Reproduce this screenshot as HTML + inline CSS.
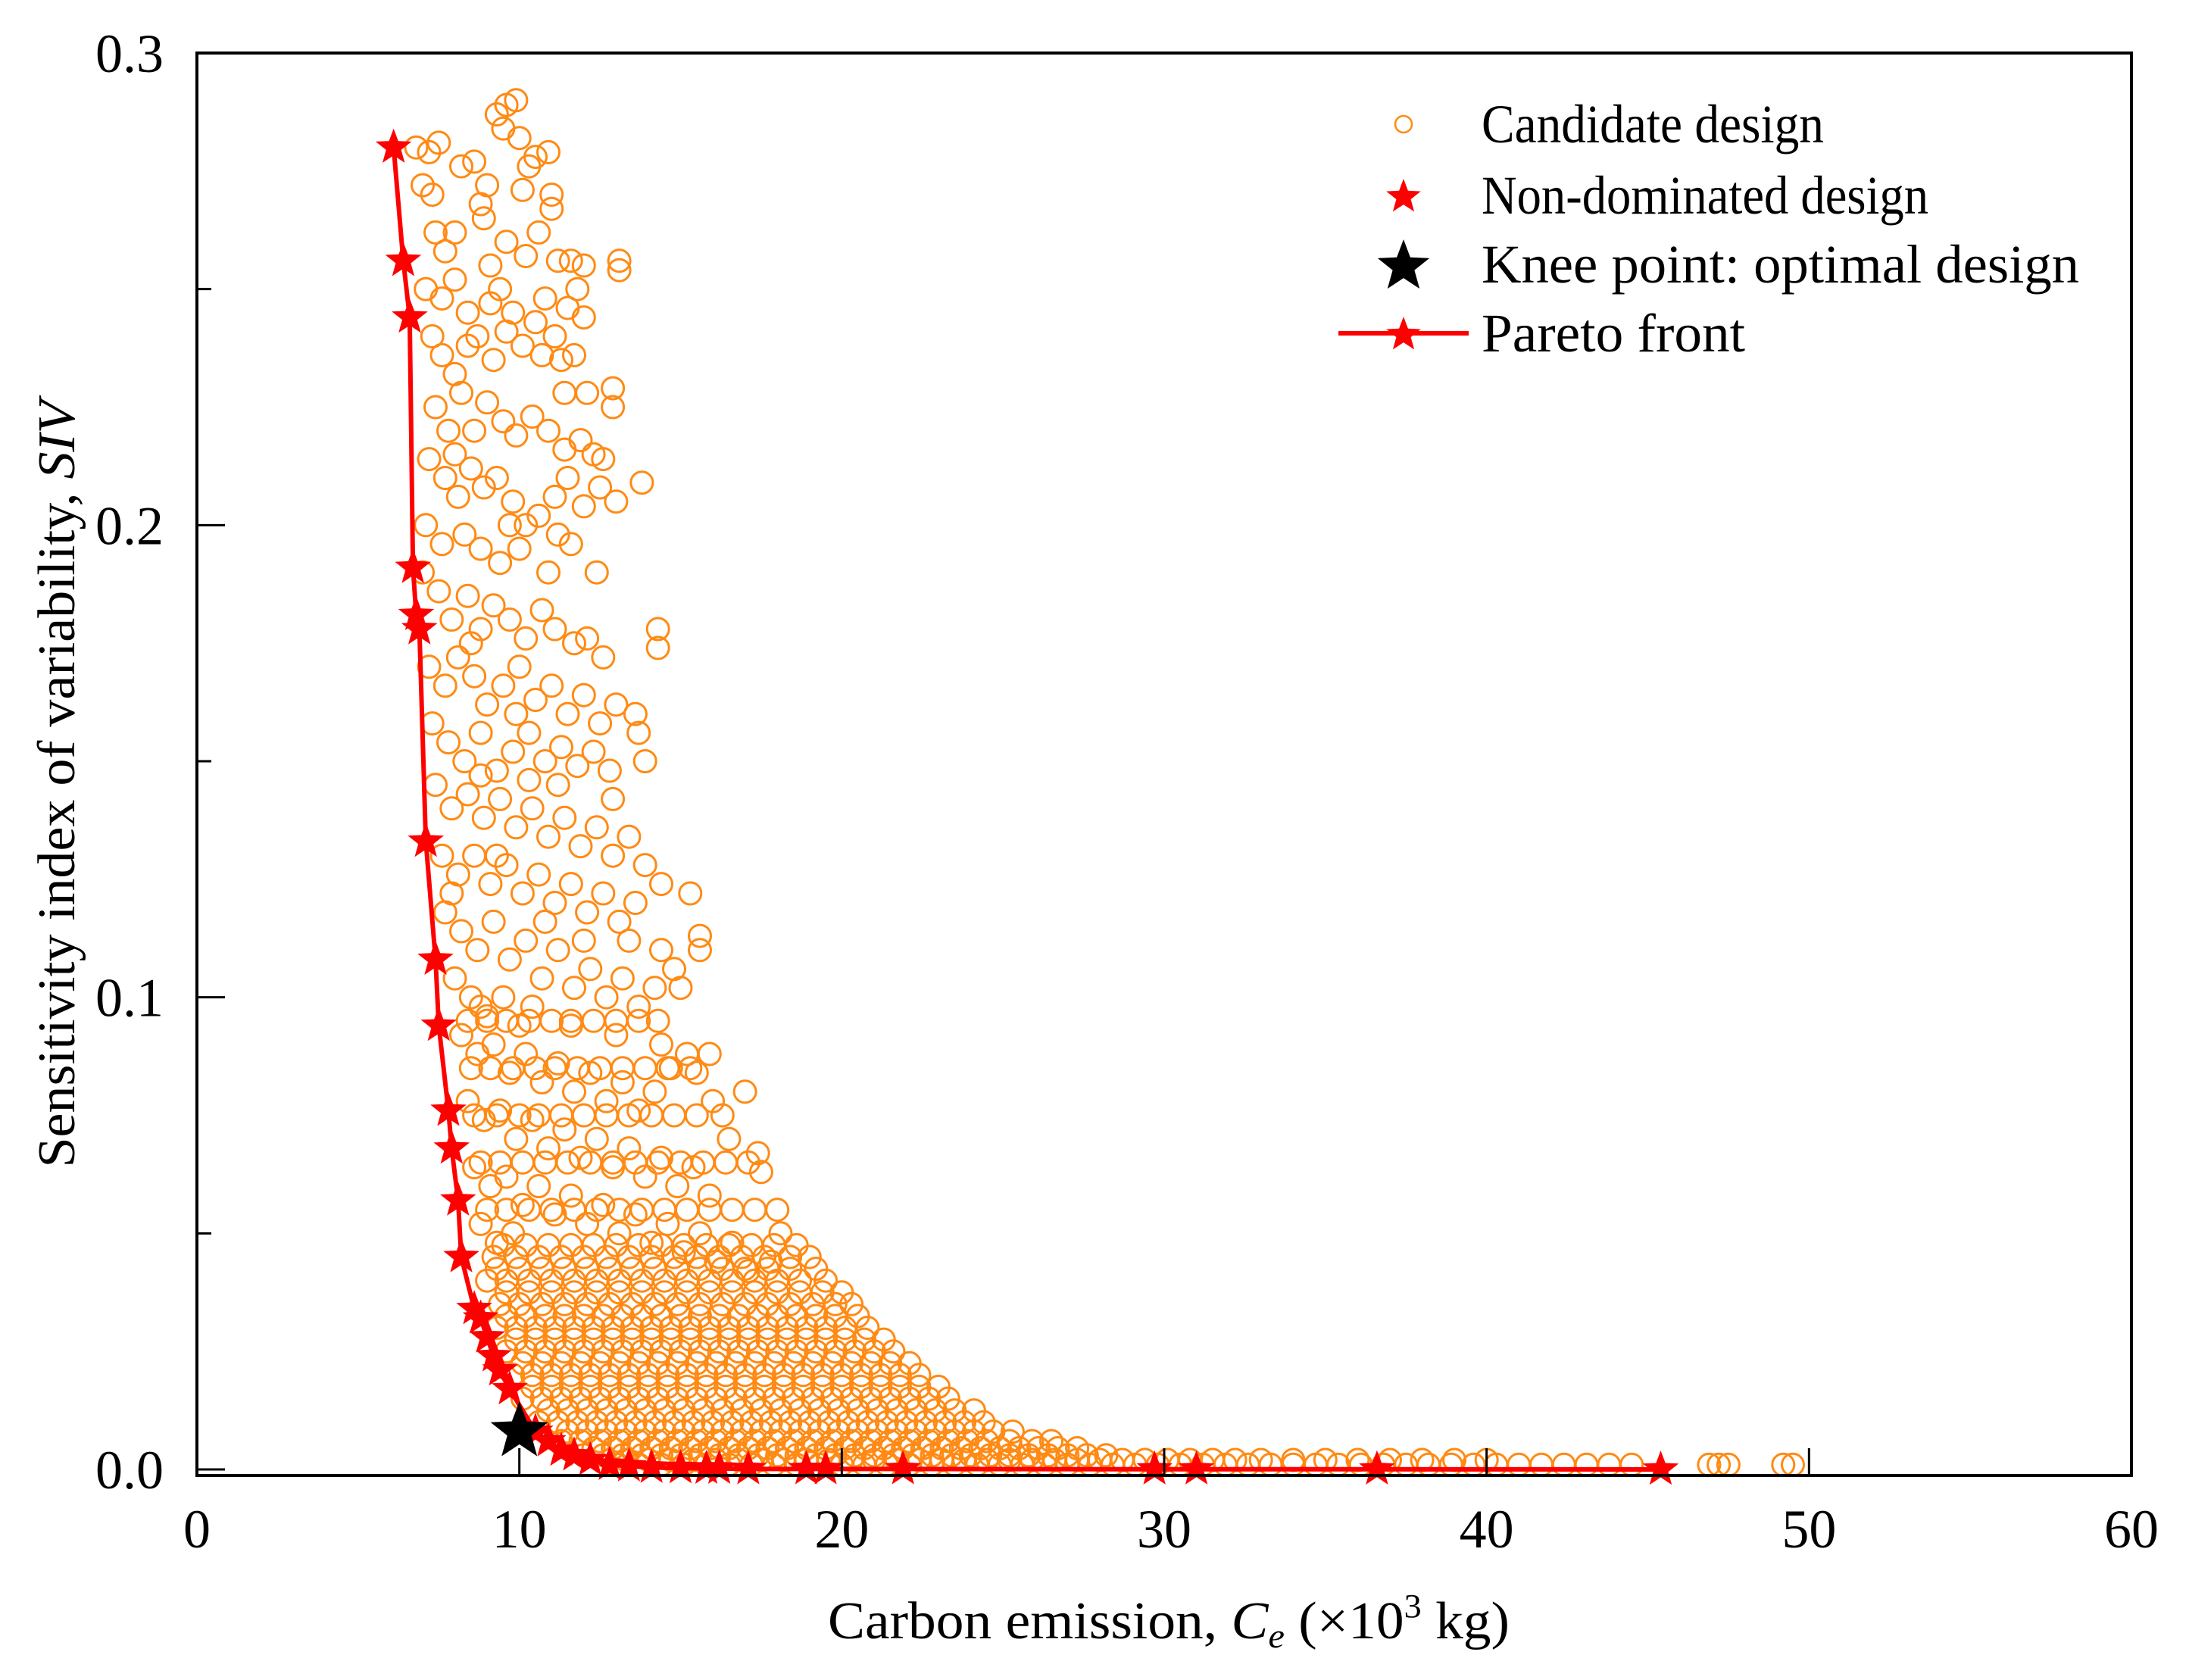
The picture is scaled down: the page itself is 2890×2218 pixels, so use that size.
<!DOCTYPE html>
<html><head><meta charset="utf-8"><style>
html,body{margin:0;padding:0;background:#fff}
svg{display:block;font-family:"Liberation Serif","DejaVu Serif",serif}
</style></head><body>
<svg id="chart" width="2890" height="2218" viewBox="0 0 2890 2218" xmlns="http://www.w3.org/2000/svg">
<rect x="0" y="0" width="2890" height="2218" fill="#fff"/>
<g id="plot"></g>
<g id="axes"></g>
<text x="1543" y="2163" font-size="70" text-anchor="middle" textLength="900" lengthAdjust="spacingAndGlyphs">Carbon emission, <tspan font-style="italic">C</tspan><tspan font-style="italic" font-size="46" dy="12">e</tspan><tspan dy="-12"> (×10</tspan><tspan font-size="44" dy="-28">3</tspan><tspan dy="28"> kg)</tspan></text>
<text transform="translate(98,1035) rotate(-90)" x="0" y="0" font-size="70" text-anchor="middle" textLength="1013" lengthAdjust="spacingAndGlyphs">Sensitivity index of variability, <tspan font-style="italic">SIV</tspan></text>
<g id="legend"></g>
</svg>
<script>
// ---- data ----
const xTicks = [0, 10, 20, 30, 40, 50, 60];
const yTicks = [0.0, 0.1, 0.2, 0.3];
const yMinorTicks = [0.05, 0.15, 0.25];
const xTickLabels = ["0", "10", "20", "30", "40", "50", "60"];
const yTickLabels = ["0.0", "0.1", "0.2", "0.3"];
const paretoX = [6.1,6.4,6.6,6.7,6.8,6.9,7.1,7.4,7.5,7.8,7.9,8.1,8.2,8.6,8.8,9.0,9.2,9.4,9.7,10.5,10.9,11.3,11.7,12.2,12.8,13.4,14.1,15.0,15.8,16.2,17.1,18.9,19.5,21.9,29.7,31.0,36.6,45.4];
const paretoY = [0.280,0.256,0.244,0.191,0.181,0.178,0.133,0.108,0.094,0.076,0.068,0.057,0.045,0.034,0.032,0.028,0.024,0.021,0.017,0.008,0.006,0.004,0.003,0.002,0.001,0.0007,0.0004,0.0003,0.0002,0.0002,0.0001,0.0001,0.0001,0.0001,0.00005,0.00005,0.00003,0.0];
const kneeX = [10.0];
const kneeY = [0.008];
const candidates = [
[6.8,.28],[7.2,.279],[7.5,.281],[7.0,.272],[7.3,.27],[8.2,.276],[8.6,.277],[9.3,.287],[9.6,.289],[9.9,.29],[9.5,.284],[10.0,.282],[10.3,.276],[10.5,.278],[10.9,.279],[10.1,.271],[11.0,.27],[11.0,.267],[7.4,.262],[7.7,.258],[8.8,.268],[8.9,.265],[9.0,.272],[9.6,.26],[10.2,.257],[11.2,.256],[11.6,.256],[12.0,.255],[13.1,.256],[13.1,.254],[7.1,.25],[7.6,.248],[8.0,.252],[9.1,.255],[9.4,.25],[9.8,.245],[10.5,.243],[10.8,.248],[11.1,.24],[11.5,.246],[11.8,.25],[12.0,.244],
[7.3,.24],[7.6,.236],[8.0,.232],[8.4,.238],[8.7,.24],[9.2,.235],[9.6,.241],[10.1,.238],[10.7,.236],[11.3,.235],[11.7,.236],[12.1,.228],[12.9,.229],[12.9,.225],[7.4,.225],[7.8,.22],[8.2,.228],[8.6,.22],[9.0,.226],[9.5,.222],[9.9,.219],[10.4,.223],[10.9,.22],[11.4,.216],[11.9,.218],[12.3,.215],[12.6,.214],[7.2,.214],[7.7,.21],[8.1,.206],[8.5,.212],[8.9,.208],[9.3,.21],[9.8,.205],[10.2,.2],[10.6,.202],[11.1,.206],[11.5,.21],[12.0,.204],[12.5,.208],[13.0,.205],[13.8,.209],[7.1,.2],[7.6,.196],[8.3,.198],[8.8,.195],[9.4,.192],[10.0,.195],[10.9,.19],[11.6,.196],
[7.0,.19],[7.5,.186],[7.9,.18],[8.4,.185],[8.8,.178],[9.2,.183],[9.7,.18],[10.2,.176],[10.7,.182],[11.1,.178],[11.7,.175],[12.1,.176],[12.6,.172],[14.3,.178],[14.3,.174],[7.2,.17],[7.7,.166],[8.1,.172],[8.6,.168],[9.0,.162],[9.5,.166],[10.0,.17],[10.5,.163],[11.0,.166],[11.5,.16],[12.0,.164],[12.5,.158],[13.0,.162],[13.6,.16],[13.7,.156],[7.3,.158],[7.8,.154],[8.3,.15],[8.8,.156],[9.3,.148],[9.8,.152],[10.3,.156],[10.8,.15],[11.3,.153],[11.8,.149],[12.3,.152],[12.8,.148],[13.9,.15],
[7.4,.145],[7.9,.14],[8.4,.143],[8.9,.138],[9.4,.142],[9.9,.136],[10.4,.14],[10.9,.134],[11.4,.138],[11.9,.132],[12.4,.136],[12.9,.13],[13.4,.134],[13.9,.128],[7.6,.13],[8.1,.126],[8.6,.13],[9.1,.124],[9.6,.128],[10.1,.122],[10.6,.126],[11.1,.12],[11.6,.124],[12.1,.118],[12.6,.122],[13.1,.116],[13.6,.12],[14.4,.124],[15.3,.122],[15.6,.113],[15.6,.11],[7.7,.118],[8.2,.114],[8.7,.11],[9.2,.116],[9.7,.108],[10.2,.112],[10.7,.104],[11.2,.11],[11.7,.102],[12.2,.106],[12.7,.1],[13.2,.104],[13.7,.098],[14.2,.102],[14.8,.106],[15.0,.102],[8.0,.104],[8.5,.1],[9.0,.096],[9.5,.1],[10.0,.094],
[8.2,.092],[8.7,.088],[9.2,.09],[9.7,.084],[10.2,.088],[10.7,.082],[11.2,.086],[11.7,.08],[12.2,.084],[12.7,.078],[13.2,.082],[13.7,.076],[14.2,.08],[14.7,.085],[15.2,.088],[15.5,.084],[16.0,.078],[17.0,.08],[8.4,.078],[8.9,.074],[9.4,.076],[9.9,.07],[10.4,.074],[10.9,.068],[11.4,.072],[11.9,.066],[12.4,.07],[12.9,.064],[13.4,.068],[13.9,.062],[14.4,.066],[14.9,.06],[15.4,.064],[15.9,.058],[16.5,.07],[17.4,.067],[17.5,.063],[8.6,.064],[9.1,.06],[9.6,.062],[10.1,.056],[10.6,.06],[11.1,.054],[11.6,.058],[12.1,.052],[12.6,.056],[13.1,.05],[13.6,.054],[14.1,.048],[14.6,.052],[15.1,.046],[15.6,.05],[16.1,.044],[16.6,.048],[17.1,.042],[18.1,.05],[17.8,.044],[8.8,.052],[9.3,.048],[9.8,.05],
[8.0,.262],[8.4,.245],[9.1,.247],[10.6,.262],[11.4,.228],[8.0,.215],[9.7,.2],[11.2,.198],[12.4,.19],[8.5,.175],[9.9,.16],[11.2,.145],[12.9,.142],[8.8,.147],[10.3,.146],[7.9,.122],[9.3,.13],[10.8,.116],[12.0,.112],[13.4,.112],[14.4,.11],[8.8,.098],[10.4,.098],[11.6,.094],[13.0,.092],[14.4,.09],[15.9,.088]
];
const denseY = [0.045,0.04,0.035,0.03,0.025,0.02,0.015,0.01,0.006,0.003,0.001,
  0.095,0.085,0.075,0.065,0.055,0.0475,0.0425,0.0375,0.0325,0.0275,0.0225,0.0175,0.0125,0.008,0.0045,0.002];
const denseX = [
[9.2,9.9,10.6,11.3,12.0,12.7,13.4,14.1,14.8,15.5,16.2,16.9,17.6,18.4,19.0],
[9.0,9.6,10.3,11.0,11.7,12.4,13.1,13.8,14.5,15.2,15.9,16.6,17.3,18.0,18.7,19.5],
[9.4,10.0,10.7,11.4,12.1,12.8,13.5,14.2,14.9,15.6,16.3,17.0,17.7,18.4,19.1,19.8,20.3],
[9.3,9.9,10.5,11.1,11.7,12.3,12.9,13.5,14.1,14.7,15.3,15.9,16.5,17.1,17.7,18.3,18.9,19.5,20.1,20.8],
[9.6,10.2,10.8,11.4,12.0,12.6,13.2,13.8,14.4,15.0,15.6,16.2,16.8,17.4,18.0,18.6,19.2,19.8,20.4,21.0,21.6],
[9.8,10.4,11.0,11.6,12.2,12.8,13.4,14.0,14.6,15.2,15.8,16.4,17.0,17.6,18.2,18.8,19.4,20.0,20.6,21.2,21.8,22.4],
[10.1,10.7,11.3,11.9,12.5,13.1,13.7,14.3,14.9,15.5,16.1,16.7,17.3,17.9,18.5,19.1,19.7,20.3,20.9,21.5,22.1,22.7,23.3],
[10.6,11.2,11.8,12.4,13.0,13.6,14.2,14.8,15.4,16.0,16.6,17.2,17.8,18.4,19.0,19.6,20.2,20.8,21.4,22.0,22.6,23.2,23.8,24.4],
[11.3,11.9,12.5,13.1,13.7,14.3,14.9,15.5,16.1,16.7,17.3,17.9,18.5,19.1,19.7,20.3,20.9,21.5,22.1,22.7,23.3,23.9,24.5,25.2,25.9,26.5],
[12.0,12.6,13.2,13.8,14.4,15.0,15.6,16.2,16.8,17.4,18.0,18.6,19.2,19.8,20.4,21.0,21.6,22.2,22.8,23.4,24.0,24.6,25.2,25.8,26.4,27.0,27.6,28.2],
[13.0,13.7,14.4,15.1,15.8,16.5,17.2,17.9,18.6,19.3,20.0,20.7,21.4,22.1,22.8,23.5,24.2,24.9,25.6,26.3,27.0,27.7,28.4,29.1,29.8,30.5,31.2,31.9,32.6,33.3,34.0,34.7,35.4,36.1,36.8,37.5,38.2,38.9,39.6,40.3,41.0,41.7,42.4,43.1,43.8,44.5,46.9,47.2,47.5,49.2,49.5],
[8.4,9.0,9.6,10.3,11.0,11.6,12.3,13.0,13.7,14.3],
[8.5,9.1,9.8,10.5,11.1,11.8,12.5,13.2,13.9,14.6,15.3],
[8.6,9.3,10.0,10.6,11.3,12.0,12.7,13.4,14.1,14.8,15.5,16.3],
[8.8,9.4,10.1,10.8,11.5,12.2,12.9,13.6,14.3,15.0,15.7,16.4,17.1],
[9.0,9.6,10.3,11.0,11.7,12.4,13.1,13.8,14.5,15.2,15.9,16.6,17.3,18.0],
[9.5,10.2,10.9,11.6,12.3,13.0,13.7,14.4,15.1,15.8,16.5,17.2,17.9,18.6],
[9.3,10.0,10.7,11.4,12.1,12.8,13.5,14.2,14.9,15.6,16.3,17.0,17.7,18.4,19.2],
[9.6,10.3,11.0,11.7,12.4,13.1,13.8,14.5,15.2,15.9,16.6,17.3,18.0,18.7,19.4,20.0],
[9.6,10.2,10.8,11.4,12.0,12.6,13.2,13.8,14.4,15.0,15.6,16.2,16.8,17.4,18.0,18.6,19.2,19.8,20.5],
[9.9,10.5,11.1,11.7,12.3,12.9,13.5,14.1,14.7,15.3,15.9,16.5,17.1,17.7,18.3,18.9,19.5,20.1,20.7,21.3],
[10.1,10.7,11.3,11.9,12.5,13.1,13.7,14.3,14.9,15.5,16.1,16.7,17.3,17.9,18.5,19.1,19.7,20.3,20.9,21.5,22.1],
[10.4,11.0,11.6,12.2,12.8,13.4,14.0,14.6,15.2,15.8,16.4,17.0,17.6,18.2,18.8,19.4,20.0,20.6,21.2,21.8,22.4,23.0],
[10.9,11.5,12.1,12.7,13.3,13.9,14.5,15.1,15.7,16.3,16.9,17.5,18.1,18.7,19.3,19.9,20.5,21.1,21.7,22.3,22.9,23.5,24.1],
[11.5,12.1,12.7,13.3,13.9,14.5,15.1,15.7,16.3,16.9,17.5,18.1,18.7,19.3,19.9,20.5,21.1,21.7,22.3,22.9,23.5,24.1,24.7,25.3],
[12.3,12.9,13.5,14.1,14.7,15.3,15.9,16.5,17.1,17.7,18.3,18.9,19.5,20.1,20.7,21.3,21.9,22.5,23.1,23.7,24.3,24.9,25.5,26.1,26.7,27.3],
[13.3,14.0,14.7,15.4,16.1,16.8,17.5,18.2,18.9,19.6,20.3,21.0,21.7,22.4,23.1,23.8,24.5,25.2,25.9,26.6,27.3,28.0,28.7,29.4,30.1,30.8,31.5,32.2,33.0,34.0,35.0,36.0,37.0,38.0,39.0,40.0]
];
const legendLabels = ["Candidate design","Non-dominated design","Knee point: optimal design","Pareto front"];

// ---- axis functions ----
const X0 = 260, X1 = 2814, Y0val = 1940, YTOP = 70, YBOT = 1948;
function sx(v){ return X0 + (v - 0) / 60 * (X1 - X0); }
function sy(v){ return Y0val - v / 0.3 * (Y0val - YTOP); }

const NS = "http://www.w3.org/2000/svg";
function mk(tag, attrs, parent){
  const e = document.createElementNS(NS, tag);
  for (const k in attrs) e.setAttribute(k, attrs[k]);
  parent.appendChild(e);
  return e;
}
function starPts(cx, cy, R){
  const r = R * 0.42, pts = [];
  for (let i = 0; i < 10; i++){
    const a = -Math.PI/2 + i * Math.PI/5, rr = i % 2 ? r : R;
    pts.push((cx + rr*Math.cos(a)).toFixed(1) + "," + (cy + rr*Math.sin(a)).toFixed(1));
  }
  return pts.join(" ");
}
const plot = document.getElementById("plot");
const axes = document.getElementById("axes");
const legend = document.getElementById("legend");
const ORANGE = "#ff8a14";

// candidates
const cg = mk("g", {}, plot);


function addCircle(x, y){
  const c = mk("circle", {cx: sx(x).toFixed(1), cy: sy(y).toFixed(1), r: 14.5, fill: "none", stroke: ORANGE, "stroke-width": 3}, cg);
  
  
}
candidates.forEach(p => addCircle(p[0], p[1]));
denseY.forEach((y, i) => denseX[i].forEach(x => addCircle(x, y)));

// pareto line
const pline = mk("polyline", {points: paretoX.map((x,i)=>sx(x).toFixed(1)+","+sy(paretoY[i]).toFixed(1)).join(" "), fill: "none", stroke: "#ff0000", "stroke-width": 6}, plot);


paretoX.forEach((x, i) => {
  const s = mk("polygon", {points: starPts(sx(x), sy(paretoY[i]), 25), fill: "#ff0000"}, plot);
  
  
});
kneeX.forEach((x, i) => {
  const k = mk("polygon", {points: starPts(sx(x), sy(kneeY[i]), 40), fill: "#000"}, plot);
  
  
});

// axes frame
const frame = mk("rect", {x: X0, y: YTOP, width: X1 - X0, height: YBOT - YTOP, fill: "none", stroke: "#000", "stroke-width": 4}, axes);


xTicks.forEach((v, i) => {
  const t = mk("line", {x1: sx(v), x2: sx(v), y1: YBOT, y2: YBOT - 36, stroke: "#000", "stroke-width": 3}, axes);
  
  
  const l = mk("text", {x: sx(v), y: 2043, "font-size": 72, "text-anchor": "middle"}, axes);
  l.textContent = xTickLabels[i];
  
  
});
yTicks.forEach((v, i) => {
  const t = mk("line", {x1: X0, x2: X0 + 37, y1: sy(v), y2: sy(v), stroke: "#000", "stroke-width": 3}, axes);
  
  
  const l = mk("text", {x: 216, y: sy(v) + 25, "font-size": 72, "text-anchor": "end"}, axes);
  l.textContent = yTickLabels[i];
  
  
});
yMinorTicks.forEach(v => {
  const t = mk("line", {x1: X0, x2: X0 + 19, y1: sy(v), y2: sy(v), stroke: "#000", "stroke-width": 3}, axes);
  
  
});

// legend
const rowY = [164, 258, 349, 440];
const textW = [452, 590, 789, 348];
const m0 = mk("circle", {cx: 1853, cy: rowY[0], r: 11, fill: "none", stroke: ORANGE, "stroke-width": 2.5}, legend);


const m1 = mk("polygon", {points: starPts(1853, rowY[1] + 2, 24), fill: "#ff0000"}, legend);


const m2 = mk("polygon", {points: starPts(1853, rowY[2] + 3, 36), fill: "#000"}, legend);


const m3l = mk("line", {x1: 1767, x2: 1939, y1: rowY[3], y2: rowY[3], stroke: "#ff0000", "stroke-width": 6}, legend);


const m3 = mk("polygon", {points: starPts(1853, rowY[3] + 2, 24), fill: "#ff0000"}, legend);


legendLabels.forEach((s, i) => {
  const t = mk("text", {x: 1956, y: rowY[i] + 24, "font-size": 72, textLength: textW[i], lengthAdjust: "spacingAndGlyphs"}, legend);
  t.textContent = s;
  
  
});
</script>
</body></html>
